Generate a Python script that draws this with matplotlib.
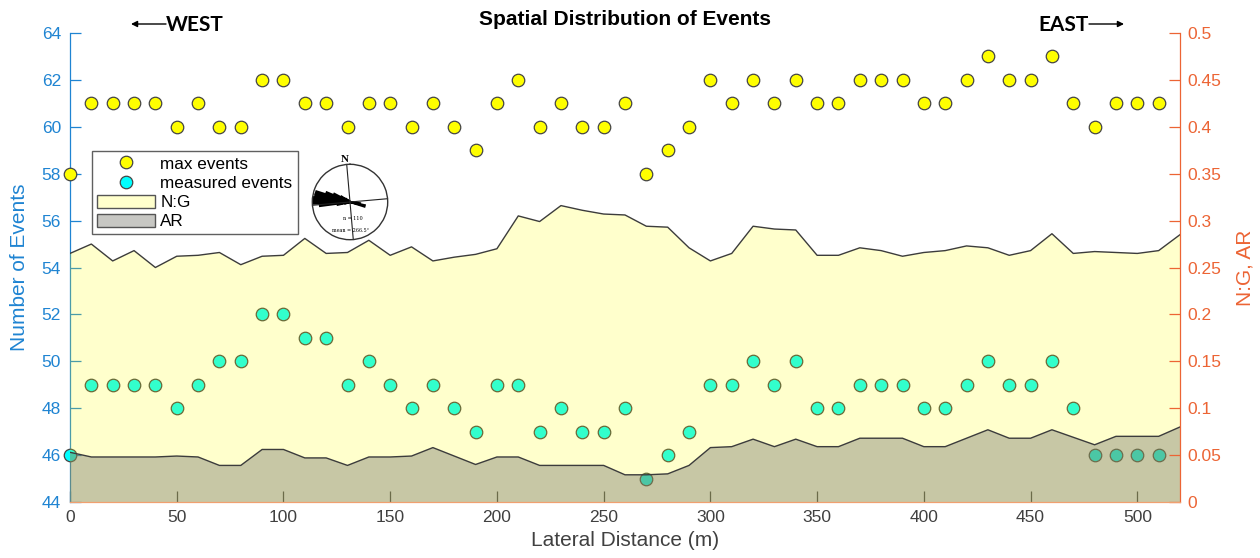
import matplotlib
matplotlib.use("Agg")
import matplotlib.pyplot as plt
import numpy as np
from matplotlib.lines import Line2D
from matplotlib.patches import Patch, FancyArrowPatch
from matplotlib.ticker import FuncFormatter

# ---- data -------------------------------------------------------------
# station positions along the profile (m)
stations = [0, 10, 20, 30, 40, 50, 60, 70, 80, 90,
            100, 110, 120, 130, 140, 150, 160, 170, 180, 190,
            200, 210, 220, 230, 240, 250, 260, 270, 280, 290,
            300, 310, 320, 330, 340, 350, 360, 370, 380, 390,
            400, 410, 420, 430, 440, 450, 460, 470, 480, 490,
            500, 510]

max_events = [58, 61, 61, 61, 61, 60, 61, 60, 60, 62,
              62, 61, 61, 60, 61, 61, 60, 61, 60, 59,
              61, 62, 60, 61, 60, 60, 61, 58, 59, 60,
              62, 61, 62, 61, 62, 61, 61, 62, 62, 62,
              61, 61, 62, 63, 62, 62, 63, 61, 60, 61,
              61, 61]

measured_events = [46, 49, 49, 49, 49, 48, 49, 50, 50, 52,
                   52, 51, 51, 49, 50, 49, 48, 49, 48, 47,
                   49, 49, 47, 48, 47, 47, 48, 45, 46, 47,
                   49, 49, 50, 49, 50, 48, 48, 49, 49, 49,
                   48, 48, 49, 50, 49, 49, 50, 48, 46, 46,
                   46, 46]

# ratio profiles sampled every 10 m, including the 520 m end point
profile_x = [0, 10, 20, 30, 40, 50, 60, 70, 80, 90,
             100, 110, 120, 130, 140, 150, 160, 170, 180, 190,
             200, 210, 220, 230, 240, 250, 260, 270, 280, 290,
             300, 310, 320, 330, 340, 350, 360, 370, 380, 390,
             400, 410, 420, 430, 440, 450, 460, 470, 480, 490,
             500, 510, 520]

ng_ratio = [0.265, 0.275, 0.257, 0.268, 0.250, 0.262, 0.263, 0.266, 0.253, 0.262,
            0.263, 0.281, 0.265, 0.266, 0.279, 0.263, 0.272, 0.257, 0.261, 0.264,
            0.270, 0.305, 0.299, 0.316, 0.311, 0.307, 0.306, 0.294, 0.293, 0.271,
            0.257, 0.265, 0.294, 0.291, 0.290, 0.263, 0.263, 0.271, 0.268, 0.262,
            0.266, 0.268, 0.273, 0.271, 0.263, 0.268, 0.286, 0.265, 0.267, 0.266,
            0.265, 0.268, 0.285]

ar_ratio = [0.053, 0.048, 0.048, 0.048, 0.048, 0.049, 0.048, 0.039, 0.039, 0.056,
            0.056, 0.047, 0.047, 0.039, 0.048, 0.048, 0.049, 0.058, 0.049, 0.040,
            0.048, 0.048, 0.039, 0.039, 0.039, 0.039, 0.029, 0.029, 0.030, 0.039,
            0.058, 0.059, 0.067, 0.059, 0.067, 0.059, 0.059, 0.068, 0.068, 0.068,
            0.059, 0.059, 0.068, 0.077, 0.068, 0.068, 0.077, 0.069, 0.061, 0.070,
            0.070, 0.070, 0.080]

# rose diagram of fracture strikes (bin centre bearing in degrees, count)
rose_bearing = [255, 260, 265, 270, 275, 280, 285, 290, 295, 300, 305, 100, 105]
rose_count = [2, 5, 12, 15, 15, 14, 14, 10, 7, 4, 2, 4, 6]
rose_n = 110
rose_mean = 266.5

left_ticks = [44, 46, 48, 50, 52, 54, 56, 58, 60, 62, 64]
right_ticks = [0, 0.05, 0.1, 0.15, 0.2, 0.25, 0.3, 0.35, 0.4, 0.45, 0.5]
x_ticks = [0, 50, 100, 150, 200, 250, 300, 350, 400, 450, 500]

# ---- style ------------------------------------------------------------
BLUE = "#1f84d2"
ORANGE = "#ec6434"
DARK = "#404040"
plt.rcParams["font.family"] = ["Liberation Sans", "DejaVu Sans"]

W, H = 1260, 558
fig = plt.figure(figsize=(W / 100, H / 100), dpi=100)
ax1 = fig.add_axes([70 / W, 56 / H, 1110 / W, 469 / H])
ax2 = ax1.twinx()

# event counts on the left axis
ax1.plot(stations, measured_events, "o", ls="none", ms=9,
         mfc="#00ffff", mec="#454545", mew=0.9, clip_on=False, zorder=3)
ax1.plot(stations, max_events, "o", ls="none", ms=9,
         mfc="#ffff00", mec="#454545", mew=0.9, clip_on=False, zorder=3)

# ratio areas on the right axis
ax2.fill_between(profile_x, 0, ng_ratio, facecolor=(1, 1, 0, 0.2), lw=0, zorder=1)
ax2.plot(profile_x, ng_ratio, color="#3c3c3c", lw=1.0, zorder=2)
ax2.fill_between(profile_x, 0, ar_ratio, facecolor=(0.45, 0.45, 0.42, 0.4), lw=0, zorder=1.5)
ax2.plot(profile_x, ar_ratio, color="#3c3c3c", lw=1.0, zorder=2)

ax1.set_xlim(0, 520)
ax1.set_ylim(44, 64)
ax2.set_ylim(0, 0.5)

ax1.set_xticks(x_ticks)
ax1.set_yticks(left_ticks)
ax2.set_yticks(right_ticks)
ax2.yaxis.set_major_formatter(FuncFormatter(lambda v, p: f"{v:g}"))

for s in ("top", "right"):
    ax1.spines[s].set_visible(False)
ax1.spines["left"].set_color(BLUE)
ax1.spines["bottom"].set_visible(False)
for s in ("top", "left"):
    ax2.spines[s].set_visible(False)
ax2.spines["right"].set_color(ORANGE)
ax2.spines["bottom"].set_color("#f0a070")
for sp in list(ax1.spines.values()) + list(ax2.spines.values()):
    sp.set_linewidth(0.9)

ax1.tick_params(axis="y", direction="in", length=8, width=0.9, colors=BLUE,
                labelsize=12.5, pad=6.5)
ax1.tick_params(axis="x", direction="in", length=8, width=0.9, colors=DARK,
                labelsize=12.5, pad=6)
ax2.tick_params(axis="y", direction="in", length=8, width=0.9, colors=ORANGE,
                labelsize=12.5, pad=5.5)

ax1.set_ylabel("Number of Events", color=BLUE, fontsize=15, labelpad=9)
ax2.set_ylabel("N:G, AR", color=ORANGE, fontsize=15, labelpad=10)
ax1.set_xlabel("Lateral Distance (m)", color=DARK, fontsize=15, labelpad=4)
ax1.set_title("Spatial Distribution of Events", fontsize=15, fontweight="bold",
              pad=6)

# direction markers above the plot
fig.text(195 / W, 1 - 25 / H, "WEST", fontsize=15, fontweight="bold",
         family="Lato", ha="center", va="center")
fig.text(1063 / W, 1 - 25 / H, "EAST", fontsize=15, fontweight="bold",
         family="Lato", ha="center", va="center")
arrow = dict(arrowstyle="-|>", lw=1.0, color="black", mutation_scale=9,
             shrinkA=0, shrinkB=0)
fig.add_artist(FancyArrowPatch((166 / W, 1 - 24 / H), (131 / W, 1 - 24 / H),
                               transform=fig.transFigure, **arrow))
fig.add_artist(FancyArrowPatch((1089 / W, 1 - 24 / H), (1124 / W, 1 - 24 / H),
                               transform=fig.transFigure, **arrow))

# legend
handles = [
    Line2D([], [], marker="o", ls="none", ms=9, mfc="#ffff00", mec="#454545", mew=0.9),
    Line2D([], [], marker="o", ls="none", ms=9, mfc="#00ffff", mec="#454545", mew=0.9),
    Patch(facecolor=(1, 1, 0, 0.2), edgecolor="#555555", lw=1),
    Patch(facecolor=(0.45, 0.45, 0.42, 0.4), edgecolor="#555555", lw=1),
]
labels = ["max events", "measured events", "N:G", "AR"]
leg = ax2.legend(handles, labels, loc="upper left",
                 bbox_to_anchor=(92 / W, 1 - 151 / H), bbox_transform=fig.transFigure,
                 borderaxespad=0, fontsize=12.3, frameon=True, fancybox=False,
                 framealpha=1, edgecolor="#606060", handlelength=3.4,
                 handleheight=0.8, handletextpad=0.3, labelspacing=0.22,
                 borderpad=0.3)
leg.get_frame().set_linewidth(1.0)

# rose diagram inset
cx, cy, r = 350, 202, 37.7
rax = fig.add_axes([(cx - r) / W, (H - cy - r) / H, 2 * r / W, 2 * r / H],
                   projection="polar")
rax.set_theta_zero_location("N")
rax.set_theta_direction(-1)
rax.bar(np.deg2rad(rose_bearing), rose_count, width=np.deg2rad(5),
        color="black", edgecolor="black", lw=1.6)
rax.set_ylim(0, max(rose_count))
rax.set_yticks([])
rax.set_xticks(np.deg2rad([355, 85, 175, 265]))
rax.set_xticklabels([])
rax.grid(True, color="#222222", lw=0.8)
rax.spines["polar"].set_color("#333333")
rax.spines["polar"].set_linewidth(1.0)
rax.set_facecolor("white")
rax.text(np.deg2rad(170), 0.45 * max(rose_count), f"n = {rose_n}", fontsize=3.5,
         family="DejaVu Serif", ha="center", va="center")
rax.text(np.deg2rad(178), 0.75 * max(rose_count), f"mean = {rose_mean}°", fontsize=3.5,
         family="DejaVu Serif", ha="center", va="center")
fig.text(345 / W, 1 - 159 / H, "N", fontsize=8, fontweight="bold",
         family="Liberation Serif", ha="center", va="center")

fig.savefig("out.png", dpi=100, facecolor="white")
